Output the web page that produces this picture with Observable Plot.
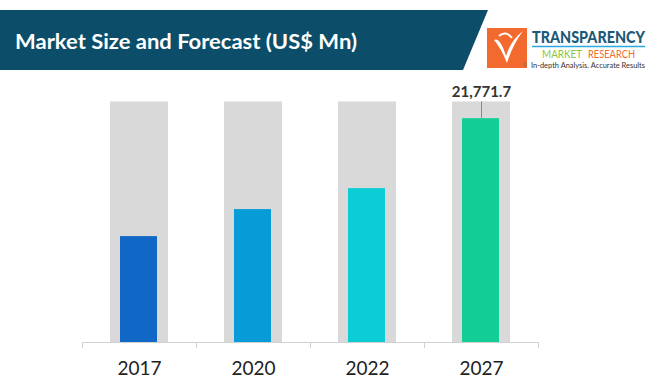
<!DOCTYPE html>
<html><head><meta charset="utf-8">
<script src="https://cdn.jsdelivr.net/npm/d3@7"></script>
<script src="https://cdn.jsdelivr.net/npm/@observablehq/plot@0.6"></script>
<style>
body{margin:0;background:#fff;}
#wrap{position:relative;width:650px;height:391px;overflow:hidden;background:#fff;}
#head{position:absolute;left:0;top:0;}
#chart{position:absolute;left:0;top:0;}
</style></head><body>
<div id="wrap">
<div id="chart"></div>
<svg id="head" width="650" height="80" font-family="Lato, 'Open Sans', sans-serif">
  <polygon points="0,10 488,10 463,70 0,70" fill="#0c4e69"/>
  <text x="15" y="48.5" fill="#ffffff" font-size="21" font-weight="700" textLength="342" lengthAdjust="spacingAndGlyphs">Market Size and Forecast (US$ Mn)</text>
  <rect x="487" y="28" width="40" height="40" fill="#f26a2d"/>
  <path d="M494 40 Q500 37 506 56 Q511 40 523 31 Q513 44 507 63 Q501 48 494 40 Z" fill="#ffffff"/>
  <path d="M499 36 Q506 30 512 38" fill="none" stroke="#ffffff" stroke-width="2"/>
  <text x="523" y="67" font-size="5" fill="#666">©</text>
  <g transform="translate(532,43) scale(1,1.25)">
    <text x="0" y="0" font-size="13.5" font-weight="900" fill="#1d5a78" textLength="113" lengthAdjust="spacingAndGlyphs">TRANSPARENCY</text>
  </g>
  <line x1="532" y1="46.5" x2="645" y2="46.5" stroke="#2aa8df" stroke-width="1.5"/>
  <text x="542" y="58" font-size="10.5" fill="#8cc63e" textLength="40" lengthAdjust="spacingAndGlyphs">MARKET</text>
  <text x="588" y="58" font-size="10.5" fill="#f26a2d" textLength="47" lengthAdjust="spacingAndGlyphs">RESEARCH</text>
  <g transform="translate(531,68) scale(1,1.2)">
    <text x="0" y="0" font-size="7" fill="#333" textLength="114" lengthAdjust="spacingAndGlyphs">In-depth Analysis. Accurate Results</text>
  </g>
</svg>
</div>
<script>
const years = ["2017", "2020", "2022", "2027"];
const marketSize = [10300, 12930, 14970, 21771.7];
const backdrop = [23400, 23400, 23400, 23400];
const valueLabels = ["", "", "", "21,771.7"];
const barColors = ["#1167c5", "#079bd8", "#0ccdd6", "#13cd96"];

const data = years.map((y, i) => ({year: y, value: marketSize[i], bg: backdrop[i], label: valueLabels[i]}));
const labelled = data.filter(d => d.label);

const plot = Plot.plot({
  width: 650,
  height: 391,
  marginLeft: 82,
  marginRight: 112,
  marginTop: 85,
  marginBottom: 49,
  style: {fontFamily: "Lato, 'Open Sans', sans-serif", background: "transparent"},
  x: {domain: years, paddingInner: 0.49, paddingOuter: 0.245, axis: null, label: null},
  y: {domain: [0, 25000], axis: null},
  color: {domain: years, range: barColors},
  marks: [
    Plot.barY(data, {x: "year", y: "bg", fill: "#d9d9d9"}),
    Plot.barY(data, {x: "year", y: "value", fill: "year", insetLeft: 10, insetRight: 11}),
    Plot.ruleX(labelled, {x: "year", y1: "value", y2: "bg", stroke: "#8a8a8a", strokeWidth: 1}),
    Plot.text(labelled, {x: "year", y: "bg", text: "label", dy: -10, fontSize: 15, fontWeight: "bold", fill: "#333"}),
    Plot.ruleY([0], {stroke: "#d0d0d0", strokeWidth: 1}),
    Plot.ruleX(years, {x: d => d, y1: 0, y2: 0, dx: -57, insetTop: 0, insetBottom: -6, stroke: "#d0d0d0"}),
    Plot.ruleX(years.slice(-1), {x: d => d, y1: 0, y2: 0, dx: 57, insetTop: 0, insetBottom: -6, stroke: "#d0d0d0"}),
    Plot.axisX({tickSize: 0, tickPadding: 19, fontSize: 19, fill: "#222", label: null})
  ]
});
document.getElementById("chart").appendChild(plot);
</script>
</body></html>
